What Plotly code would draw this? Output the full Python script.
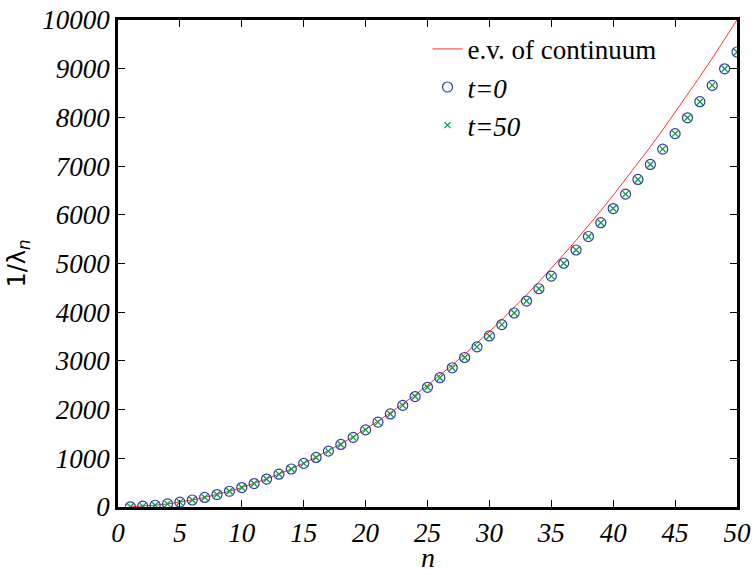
import plotly.graph_objects as go

n_vals = list(range(1, 51))
continuum = [4, 16, 36, 64, 100, 144, 196, 256, 324, 400, 484, 576, 676, 784, 900,
             1024, 1156, 1296, 1444, 1600, 1764, 1936, 2116, 2304, 2500, 2704, 2916,
             3136, 3364, 3600, 3844, 4096, 4356, 4624, 4900, 5184, 5476, 5776, 6084,
             6400, 6724, 7056, 7396, 7744, 8100, 8464, 8836, 9216, 9604, 10000]
t0 = [4, 16, 36, 64, 100, 144, 196, 256, 323, 399, 482, 574, 673, 780, 895,
      1017, 1147, 1285, 1430, 1583, 1743, 1911, 2086, 2268, 2458, 2655, 2859,
      3070, 3288, 3513, 3745, 3984, 4229, 4482, 4740, 5005, 5277, 5554, 5838,
      6128, 6424, 6726, 7034, 7348, 7667, 7992, 8322, 8657, 8998, 9343]
t50 = [4, 16, 36, 64, 100, 144, 196, 256, 323, 399, 482, 574, 673, 780, 895,
       1017, 1147, 1285, 1430, 1583, 1743, 1911, 2086, 2268, 2458, 2655, 2859,
       3070, 3288, 3513, 3745, 3984, 4229, 4482, 4740, 5005, 5277, 5554, 5838,
       6128, 6424, 6726, 7034, 7348, 7667, 7992, 8322, 8657, 8998, 9343]
x_ticks = [0, 5, 10, 15, 20, 25, 30, 35, 40, 45, 50]
y_ticks = list(range(0, 10001, 1000))

serif = "Liberation Serif"

fig = go.Figure()
fig.add_trace(go.Scatter(x=n_vals, y=continuum, mode="lines", name="e.v. of continuum",
                         line=dict(color="#ff3333", width=1)))
fig.add_trace(go.Scatter(x=n_vals, y=t0, mode="markers", name="<i>t=0</i>",
                         marker=dict(symbol="circle-open", size=10, color="#2e3c9e",
                                     line=dict(width=1.2, color="#2e3c9e"))))
fig.add_trace(go.Scatter(x=n_vals, y=t50, mode="markers", name="<i>t=50</i>",
                         marker=dict(symbol="x-thin-open", size=6, color="#00a040",
                                     line=dict(width=1.3, color="#00a040"))))

fig.update_layout(
    width=755, height=569,
    font=dict(family=serif, size=27, color="black"),
    margin=dict(l=118, r=18, t=20, b=62),
    paper_bgcolor="white", plot_bgcolor="white",
    showlegend=True,
    legend=dict(x=0.5, y=0.99, xanchor="left", yanchor="top",
                font=dict(family=serif, size=27, color="black"),
                bgcolor="rgba(0,0,0,0)", borderwidth=0, tracegroupgap=0,
                itemwidth=30),
)
for ax, vals, rng in ((fig.layout.xaxis, x_ticks, [0, 50]), (fig.layout.yaxis, y_ticks, [0, 10000])):
    ax.update(range=rng, tickvals=vals, ticktext=["<i>%d</i>" % v for v in vals],
              showgrid=False, zeroline=False, showline=True, linecolor="black",
              linewidth=2.5, mirror="ticks", ticks="inside", ticklen=7,
              tickcolor="black", tickwidth=1, automargin=False,
              tickfont=dict(family=serif, size=27, color="black"))

fig.update_xaxes(ticklabeloverflow="allow")
fig.add_annotation(text="<i>n</i>", xref="paper", yref="paper", x=0.5, y=-0.068,
                   xanchor="center", yanchor="top", showarrow=False,
                   font=dict(family=serif, size=28, color="black"))
fig.update_yaxes(title=dict(text="1/λ<sub><i>n</i></sub>",
                            font=dict(family="DejaVu Sans", size=24, color="black"),
                            standoff=10))

fig.write_html("out.html")
